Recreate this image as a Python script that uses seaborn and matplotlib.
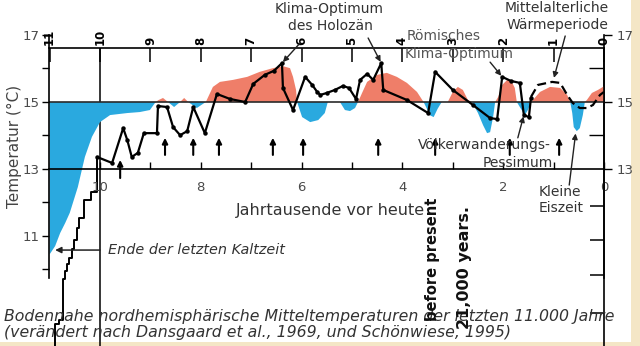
import matplotlib
matplotlib.use("Agg")
import matplotlib.pyplot as plt
from matplotlib.ticker import FixedLocator, NullFormatter, FixedFormatter
from matplotlib.patches import Rectangle
import seaborn as sns

sns.set_theme(style="white")
plt.rcParams["font.family"] = ["DejaVu Sans"]

# ---------------------------------------------------------------- data
# smoothed temperature curve (kyr before present, degC) for the shaded anomaly
fill_t = [11.0, 10.89, 10.79, 10.69, 10.60, 10.44, 10.30, 10.16, 10.0, 9.80,
          9.46, 9.21, 9.01, 8.91, 8.85, 8.75, 8.65, 8.53, 8.41, 8.33,
          8.25, 8.08, 7.90, 7.76, 7.62, 7.36, 7.08, 6.83, 6.57, 6.37,
          6.23, 6.17, 6.11, 6.09, 6.07, 5.99, 5.83, 5.67, 5.54, 5.48,
          5.24, 5.14, 5.04, 4.94, 4.88, 4.80, 4.70, 4.50, 4.31, 4.11,
          3.91, 3.71, 3.58, 3.45, 3.38, 3.30, 3.22, 3.10, 3.0, 2.90,
          2.80, 2.70, 2.62, 2.50, 2.40, 2.32, 2.26, 2.20, 2.16, 2.10,
          2.02, 1.92, 1.83, 1.77, 1.73, 1.67, 1.57, 1.51, 1.45, 1.41,
          1.27, 1.07, 0.87, 0.73, 0.67, 0.63, 0.60, 0.54, 0.48, 0.42,
          0.38, 0.34, 0.24, 0.12, 0.0]
fill_T = [10.45, 10.70, 11.09, 11.39, 11.69, 12.46, 13.36, 13.96, 14.40, 14.61,
          14.67, 14.70, 14.76, 14.97, 15.05, 15.12, 15.0, 14.85, 15.0, 15.12,
          15.0, 14.82, 15.0, 15.45, 15.6, 15.66, 15.75, 15.9, 16.01, 16.07,
          16.01, 15.75, 15.36, 15.0, 14.91, 14.55, 14.40, 14.46, 14.67, 15.0,
          15.0, 14.76, 14.73, 14.82, 15.0, 15.27, 15.6, 15.81, 15.87, 15.75,
          15.57, 15.3, 15.0, 14.6, 14.55, 14.8, 15.0, 15.0, 15.3, 15.45,
          15.36, 15.06, 15.0, 14.67, 14.31, 14.07, 14.1, 14.55, 15.0, 15.15,
          15.51, 15.66, 15.6, 15.42, 15.0, 14.85, 14.61, 14.76, 15.0, 15.06,
          15.3, 15.45, 15.42, 15.21, 15.0, 14.67, 14.25, 14.13, 14.22, 14.61,
          15.0, 15.06, 15.27, 15.36, 15.47]

# measured series (solid with points)
holo_t = [10.06, 9.76, 9.54, 9.46, 9.37, 9.25, 9.13, 8.87, 8.85, 8.67,
          8.55, 8.41, 8.27, 8.15, 7.92, 7.68, 7.42, 7.12, 6.96, 6.73,
          6.55, 6.39, 6.37, 6.17, 5.93, 5.79, 5.69, 5.63, 5.50, 5.34,
          5.18, 5.06, 4.92, 4.84, 4.70, 4.58, 4.42, 4.38, 3.91, 3.49,
          3.35, 3.00, 2.60, 2.26, 2.12, 2.02, 1.85, 1.67, 1.59, 1.49, 1.45]
holo_T = [13.36, 13.18, 14.22, 13.87, 13.36, 13.48, 14.07, 14.07, 14.88, 14.85,
          14.25, 14.01, 14.13, 14.85, 14.07, 15.24, 15.09, 15.0, 15.54, 15.81,
          15.93, 16.16, 15.42, 14.76, 15.75, 15.51, 15.30, 15.21, 15.27, 15.36,
          15.48, 15.42, 15.09, 15.66, 15.84, 15.66, 16.16, 15.36, 15.06, 14.67,
          15.9, 15.36, 14.91, 14.52, 14.49, 15.75, 15.63, 15.57, 14.61, 14.55, 15.12]

# last millennium (dashed)
dash_t = [1.45, 1.31, 1.03, 0.87, 0.73, 0.62, 0.48, 0.34, 0.22, 0.08, 0.0]
dash_T = [15.15, 15.51, 15.6, 15.57, 15.21, 14.97, 14.82, 14.82, 14.91, 15.21, 15.3]

# late-glacial staircase
step_t = [10.06, 10.18, 10.32, 10.42, 10.46, 10.52, 10.56, 10.62, 10.65, 10.69,
          10.73, 10.81, 10.89, 10.89]
step_T = [13.36, 12.31, 12.07, 11.54, 11.24, 10.88, 10.61, 10.34, 10.16, 9.96,
          9.72, 8.49, 8.37, 7.60]

# event arrows
event_t = [9.60, 8.71, 8.15, 7.64, 6.57, 5.97, 4.48, 3.35, 1.87, 0.89]
event_tail = [12.73, 13.42, 13.42, 13.42, 13.42, 13.42, 13.42, 13.42, 13.42, 13.42]
event_head = [13.27, 13.93, 13.93, 13.93, 13.93, 13.93, 13.93, 13.93, 13.93, 13.93]

y_major = [11, 13, 15, 17]
y_minor = [10, 12, 14, 16]
x_major = [0, 2, 4, 6, 8, 10]
x_minor = [1, 3, 5, 7, 9, 11]
top_ticks = list(range(0, 12))
ov_right_ticks = [11.90, 10.88, 9.84, 8.70]

RED = "#EF7E69"
BLUE = "#2AA9DF"
TXT = "#333333"
TICK = "#4a4a4a"
BEIGE = "#F4E6C6"

# ---------------------------------------------------------------- figure
W, H = 640, 346
fig = plt.figure(figsize=(W / 100, H / 100), dpi=100)
fig.patch.set_facecolor("white")


def box(x0, x1, y0, y1):
    return [x0 / W, 1 - y1 / H, (x1 - x0) / W, (y1 - y0) / H]


def ftxt(x, y, s, **kw):
    kw.setdefault("va", "center")
    kw.setdefault("color", TXT)
    return fig.text(x / W, 1 - y / H, s, **kw)


fig.patches.append(Rectangle((631 / W, 0), 9 / W, 1, transform=fig.transFigure,
                             facecolor=BEIGE, edgecolor="none", zorder=0))
fig.patches.append(Rectangle((0, 0), 1, 4 / H, transform=fig.transFigure,
                             facecolor=BEIGE, edgecolor="none", zorder=0))

XL = (11.012, 0.0)

# overlay frame (upper time axis, staircase)
ov = fig.add_axes(box(49, 604, 48, 346))
ov.set_zorder(1)
ov.patch.set_alpha(0)
ov.set_xlim(*XL)
ov.set_ylim(7.716, 16.612)
for s in ["left", "bottom"]:
    ov.spines[s].set_visible(False)
for s in ["top", "right"]:
    ov.spines[s].set_color("black")
    ov.spines[s].set_linewidth(1.2)
ov.xaxis.tick_top()
ov.xaxis.set_major_locator(FixedLocator(top_ticks))
ov.xaxis.set_major_formatter(FixedFormatter([str(v) for v in top_ticks]))
ov.tick_params(axis="x", which="major", direction="in", length=10, width=1.1,
               color="black", pad=2, labelsize=8.5, labelrotation=90,
               labelcolor="black", top=True, bottom=False)
for lab in ov.get_xticklabels():
    lab.set_fontweight("bold")
ov.yaxis.tick_right()
ov.yaxis.set_major_locator(FixedLocator(ov_right_ticks))
ov.yaxis.set_major_formatter(NullFormatter())
ov.tick_params(axis="y", which="major", direction="in", length=10, width=1.1,
               color="black", right=True, left=False)
ov.axvline(10.0, color="black", lw=1.1)
sns.lineplot(x=step_t, y=step_T, ax=ov, color="black", lw=1.4, sort=False,
             estimator=None, drawstyle="steps-pre")
ov.annotate("", xy=(10.89, 10.58), xytext=(10.0, 10.58),
            arrowprops=dict(arrowstyle="-|>", color="#222222", lw=1.1,
                            mutation_scale=9, shrinkA=0, shrinkB=0))

# main temperature chart
ax = fig.add_axes(box(49, 604, 35, 278))
ax.set_zorder(2)
ax.patch.set_alpha(0)
ax.set_xlim(*XL)
ax.set_ylim(9.746, 17.0)

ax.fill_between(fill_t, fill_T, 15, where=[v >= 15 for v in fill_T],
                interpolate=True, color=RED, lw=0)
ax.fill_between(fill_t, fill_T, 15, where=[v <= 15 for v in fill_T],
                interpolate=True, color=BLUE, lw=0)
ax.axhline(15, color="#2a2a2a", lw=1.2)

sns.lineplot(x=holo_t, y=holo_T, ax=ax, color="black", lw=1.6, sort=False,
             estimator=None, marker="o", markersize=3.2, markeredgewidth=0)
sns.lineplot(x=dash_t, y=dash_T, ax=ax, color="black", lw=1.6, sort=False,
             estimator=None, linestyle=(0, (4, 2)))

for t, a, b in zip(event_t, event_tail, event_head):
    ax.annotate("", xy=(t, b), xytext=(t, a),
                arrowprops=dict(arrowstyle="-|>", color="black", lw=1.5,
                                mutation_scale=8, shrinkA=0, shrinkB=0))

ax.spines["top"].set_visible(False)
ax.spines["right"].set_visible(False)
ax.spines["left"].set_color("black")
ax.spines["left"].set_linewidth(1.2)
ax.spines["bottom"].set_position(("data", 13))
ax.spines["bottom"].set_color("black")
ax.spines["bottom"].set_linewidth(1.2)

ax.yaxis.set_major_locator(FixedLocator(y_major))
ax.yaxis.set_minor_locator(FixedLocator(y_minor))
ax.yaxis.set_minor_formatter(NullFormatter())
ax.tick_params(axis="y", which="both", direction="out", length=5, width=1,
               color="black", left=True, labelsize=9.5, labelcolor=TICK, pad=2)
ax.xaxis.set_major_locator(FixedLocator(x_major))
ax.xaxis.set_minor_locator(FixedLocator(x_minor))
ax.xaxis.set_minor_formatter(NullFormatter())
ax.tick_params(axis="x", which="both", direction="in", length=5, width=1,
               color="black", bottom=True, labelsize=9.5, labelcolor=TICK, pad=9)

ax2 = ax.twinx()
ax2.set_zorder(3)
ax2.set_ylim(9.746, 17.0)
for s in ["top", "left", "bottom"]:
    ax2.spines[s].set_visible(False)
ax2.spines["right"].set_color("black")
ax2.spines["right"].set_linewidth(1.2)
ax2.yaxis.set_major_locator(FixedLocator([13, 15, 17]))
ax2.yaxis.set_minor_locator(FixedLocator([14, 16]))
ax2.yaxis.set_minor_formatter(NullFormatter())
ax2.tick_params(axis="y", which="major", direction="out", length=6, width=1,
                color="black", labelsize=9.5, labelcolor=TICK, pad=3)
ax2.tick_params(axis="y", which="minor", direction="in", length=11, width=1,
                color="black")

# pointer lines from the labels to the curve
ptr = dict(arrowstyle="-|>", color="#222222", lw=1.0, mutation_scale=8,
           shrinkA=0, shrinkB=1)
for start, end in [((6.03, 16.76), (6.39, 16.16)),
                   ((4.68, 16.91), (4.42, 16.16)),
                   ((2.26, 16.19), (2.02, 15.75)),
                   ((0.77, 16.97), (1.00, 15.68)),
                   ((1.71, 13.93), (1.59, 14.61)),
                   ((0.69, 12.52), (0.56, 14.10))]:
    ax.annotate("", xy=end, xytext=start, arrowprops=ptr, annotation_clip=False)

# ---------------------------------------------------------------- labels
ftxt(329, 9, "Klima-Optimum", ha="center", fontsize=10)
ftxt(330, 26, "des Holozän", ha="center", fontsize=10)
ftxt(557, 8, "Mittelalterliche", ha="center", fontsize=10)
ftxt(557, 25, "Wärmeperiode", ha="center", fontsize=10)
ftxt(407, 36, "Römisches", ha="left", fontsize=10, color="#555555")
ftxt(405, 54, "Klima-Optimum", ha="left", fontsize=10, color="#555555")
ftxt(418, 145, "Völkerwanderungs-", ha="left", fontsize=10)
ftxt(483, 163, "Pessimum", ha="left", fontsize=10)
ftxt(539, 192, "Kleine", ha="left", fontsize=10)
ftxt(539, 208, "Eiszeit", ha="left", fontsize=10)
ftxt(236, 211, "Jahrtausende vor heute", ha="left", fontsize=11.5)
ftxt(108, 250, "Ende der letzten Kaltzeit", ha="left", fontsize=10.4,
     style="italic")
ftxt(14, 146, "Temperatur (°C)", ha="center", rotation=90, fontsize=11,
     color="#444444")
ftxt(4, 316, "Bodennahe nordhemisphärische Mitteltemperaturen der letzten 11.000 Jahre",
     ha="left", fontsize=11.3, style="italic")
ftxt(4, 332, "(verändert nach Dansgaard et al., 1969, und Schönwiese, 1995)",
     ha="left", fontsize=11.3, style="italic")
ftxt(432, 198, "before present", ha="center", va="top", rotation=90,
     fontsize=10.5, fontweight="bold", color="#111111")
ftxt(464, 206, "21,000 years.", ha="center", va="top", rotation=90,
     fontsize=11.5, fontweight="bold", color="#111111")

fig.savefig("out.png", dpi=100, facecolor=fig.get_facecolor())
